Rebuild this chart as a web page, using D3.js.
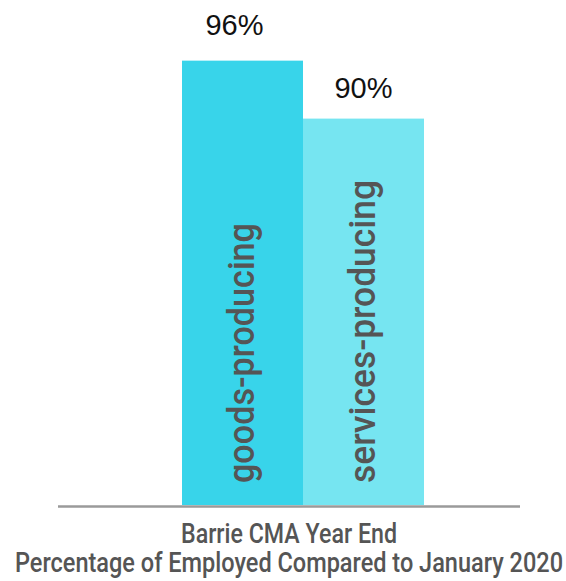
<!DOCTYPE html>
<html>
<head>
<meta charset="utf-8">
<script src="https://cdn.jsdelivr.net/npm/d3@7"></script>
<style>
  html, body { margin: 0; padding: 0; background: #fff; }
  svg { display: block; }
</style>
</head>
<body>
<svg id="chart" width="566" height="581"></svg>
<script>
// Employment by sector, year end vs January 2020
const categories = ["goods-producing", "services-producing"];
const values = [96, 90];
const valueLabels = ["96%", "90%"];
const barColors = ["#38d4ea", "#76e5f1"];
const titleLines = ["Barrie CMA Year End", "Percentage of Employed Compared to January 2020"];

const svg = d3.select("#chart");

const x = d3.scaleBand()
  .domain(categories)
  .range([182, 424])
  .padding(0);

const y = d3.scaleLinear()
  .domain([50, 100])
  .range([505, 22]);

// bars
svg.selectAll("rect.bar")
  .data(categories)
  .join("rect")
  .attr("class", "bar")
  .attr("x", d => x(d))
  .attr("width", x.bandwidth())
  .attr("y", (d, i) => y(values[i]))
  .attr("height", (d, i) => y(50) - y(values[i]))
  .attr("fill", (d, i) => barColors[i]);

// baseline
svg.append("line")
  .attr("x1", 58).attr("x2", 520)
  .attr("y1", 506.5).attr("y2", 506.5)
  .attr("stroke", "#9a9a9a")
  .attr("stroke-width", 2.5);

// value labels above bars
svg.selectAll("text.value")
  .data(categories)
  .join("text")
  .attr("class", "value")
  .attr("x", (d, i) => x(d) + x.bandwidth() / 2 + (i === 0 ? -8 : 0))
  .attr("y", (d, i) => y(values[i]) - (i === 0 ? 26 : 21))
  .attr("text-anchor", "middle")
  .attr("font-family", "Liberation Sans, Arial, sans-serif")
  .attr("font-size", 29)
  .attr("fill", "#111")
  .text((d, i) => valueLabels[i]);

// rotated category labels inside bars
const catLen = [260, 303];
svg.selectAll("text.cat")
  .data(categories)
  .join("text")
  .attr("class", "cat")
  .attr("transform", (d, i) => `translate(${x(d) + x.bandwidth() / 2 + 11},483) rotate(-90)`)
  .attr("font-family", "Roboto, sans-serif")
  .attr("font-weight", 500)
  .attr("font-size", 37)
  .attr("fill", "#555")
  .attr("textLength", (d, i) => catLen[i])
  .attr("lengthAdjust", "spacingAndGlyphs")
  .text(d => d);

// axis title
const titleY = [543, 572];
const titleLen = [216, 548];
svg.selectAll("text.title")
  .data(titleLines)
  .join("text")
  .attr("class", "title")
  .attr("x", 289)
  .attr("y", (d, i) => titleY[i])
  .attr("text-anchor", "middle")
  .attr("font-family", "Roboto, sans-serif")
  .attr("font-weight", 500)
  .attr("font-size", 27)
  .attr("fill", "#555")
  .attr("textLength", (d, i) => titleLen[i])
  .attr("lengthAdjust", "spacingAndGlyphs")
  .text(d => d);
</script>
</body>
</html>
